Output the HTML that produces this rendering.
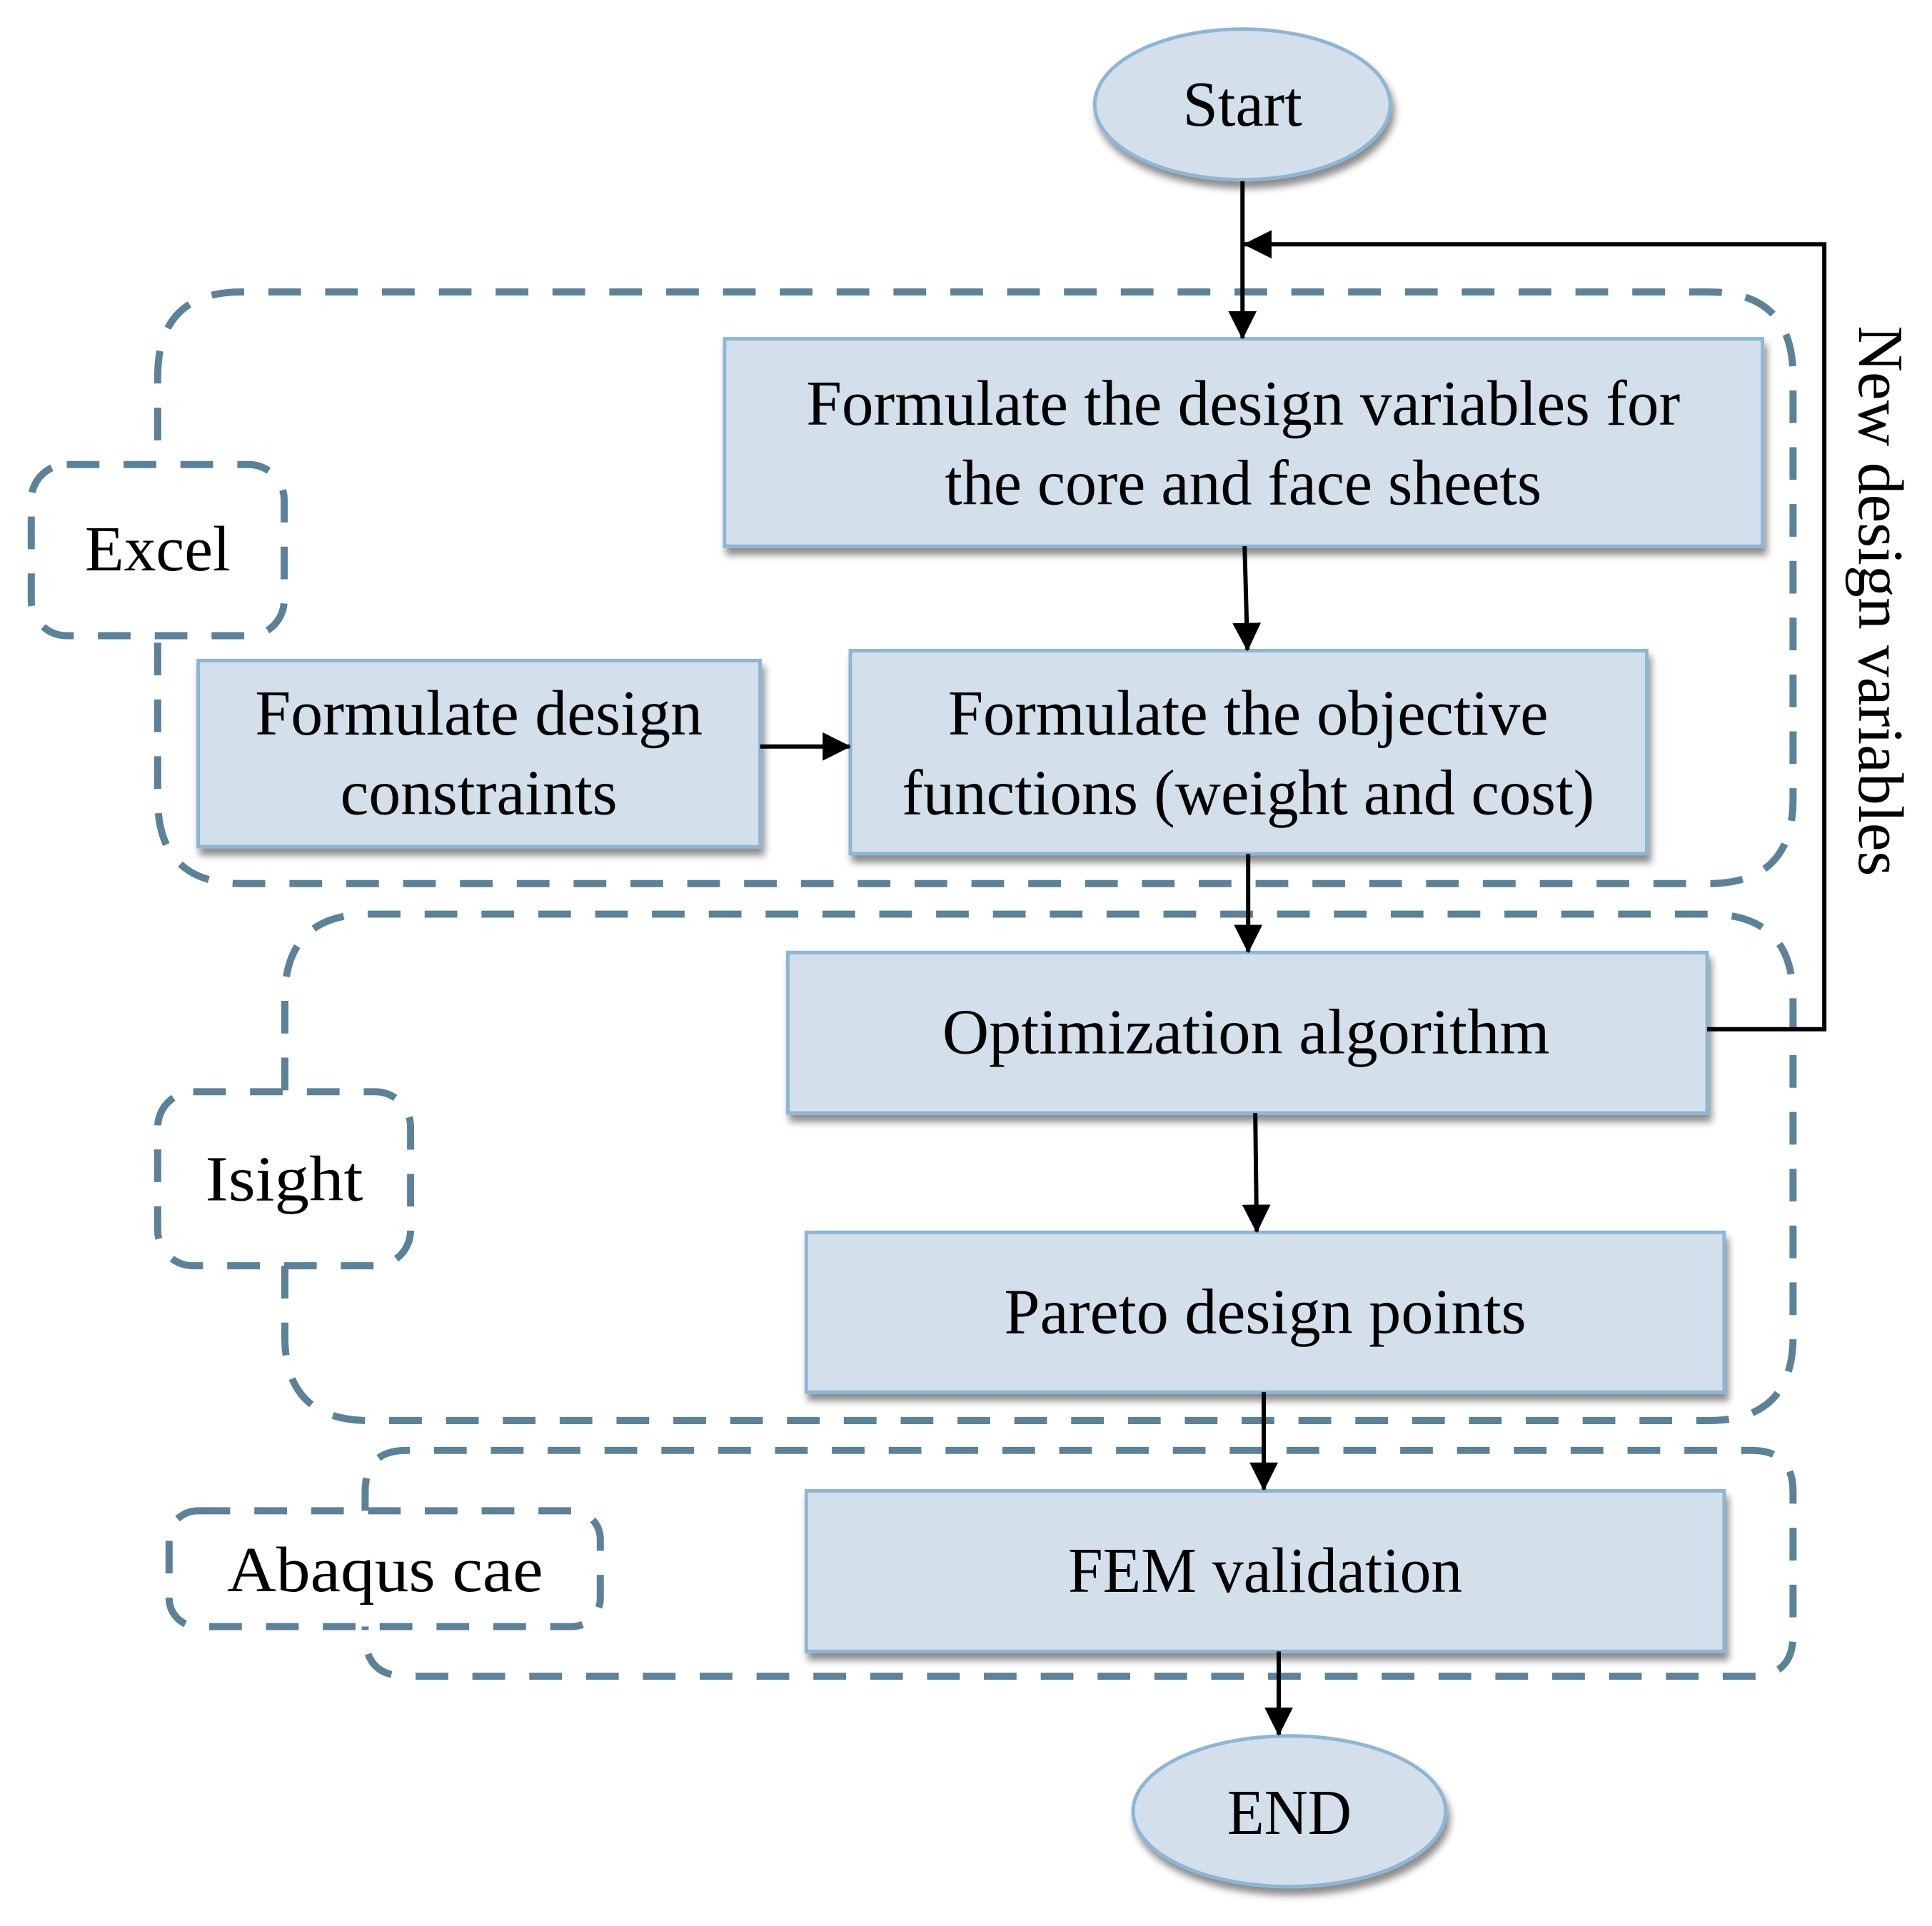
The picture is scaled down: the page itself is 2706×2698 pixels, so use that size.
<!DOCTYPE html>
<html><head><meta charset="utf-8"><style>html,body{margin:0;padding:0;background:#fff}</style></head>
<body>
<svg width="2706" height="2693" viewBox="0 0 2706 2693" xmlns="http://www.w3.org/2000/svg" font-family="Liberation Serif, serif">
<defs>
<filter id="sh" x="-5%" y="-5%" width="115%" height="125%"><feDropShadow dx="4" dy="10" stdDeviation="5" flood-color="#000" flood-opacity="0.45"/></filter>
<marker id="ar" markerWidth="40" markerHeight="40" refX="38" refY="20" orient="auto" markerUnits="userSpaceOnUse" viewBox="0 0 40 40"><path d="M0,0 L40,20 L0,40 z" fill="#000"/></marker>
</defs>
<g transform="scale(0.995)">
<g fill="none" stroke="#5b8299" stroke-width="10" stroke-dasharray="46 34">
<path d="M222,620 V530 Q222,411 340,411 H2405 Q2524,411 2524,530 V1125 Q2524,1244 2405,1244 H340 Q222,1244 222,1125 V895"/>
<rect x="44" y="654" width="356" height="241" rx="50"/>
<path d="M401,1535 V1405 Q401,1287 520,1287 H2405 Q2524,1287 2524,1405 V1882 Q2524,2000 2405,2000 H520 Q401,2000 401,1882 V1782"/>
<rect x="222" y="1537" width="356" height="245" rx="50"/>
<path d="M514,2127 V2100 Q514,2042 572,2042 H2466 Q2524,2042 2524,2100 V2302 Q2524,2360 2466,2360 H572 Q514,2360 514,2302 V2290"/>
<rect x="238" y="2127" width="607" height="163" rx="40"/>
</g>
<g fill="#d3dfea" stroke="#8db6d6" stroke-width="5" filter="url(#sh)">
<ellipse cx="1749" cy="147" rx="208" ry="106"/>
<rect x="1020" y="477" width="1461" height="292"/>
<rect x="279" y="930" width="791" height="262"/>
<rect x="1197" y="916" width="1121" height="286"/>
<rect x="1109" y="1341" width="1294" height="226"/>
<rect x="1135" y="1735" width="1292" height="225"/>
<rect x="1135" y="2099" width="1292" height="226"/>
<ellipse cx="1815" cy="2550" rx="220" ry="106"/>
</g>
<g stroke="#000" stroke-width="6" fill="none">
<line x1="1749" y1="255" x2="1749" y2="476" marker-end="url(#ar)"/>
<line x1="1752" y1="769" x2="1756" y2="915" marker-end="url(#ar)"/>
<line x1="1070" y1="1051" x2="1196" y2="1051" marker-end="url(#ar)"/>
<line x1="1757" y1="1202" x2="1757" y2="1340" marker-end="url(#ar)"/>
<line x1="1767" y1="1567" x2="1769" y2="1734" marker-end="url(#ar)"/>
<line x1="1779" y1="1960" x2="1779" y2="2097" marker-end="url(#ar)"/>
<line x1="1800" y1="2325" x2="1800" y2="2442" marker-end="url(#ar)"/>
<polyline points="2403,1449 2568,1449 2568,344 1752,344" marker-end="url(#ar)"/>
</g>
<g fill="#000" font-size="90" text-anchor="middle">
<text x="1749" y="177" textLength="168" lengthAdjust="spacingAndGlyphs">Start</text>
<text x="1750" y="598" textLength="1230" lengthAdjust="spacingAndGlyphs">Formulate the design variables for</text>
<text x="1750" y="710" textLength="840" lengthAdjust="spacingAndGlyphs">the core and face sheets</text>
<text x="674" y="1034" textLength="630" lengthAdjust="spacingAndGlyphs">Formulate design</text>
<text x="674" y="1146" textLength="390" lengthAdjust="spacingAndGlyphs">constraints</text>
<text x="1757" y="1034" textLength="845" lengthAdjust="spacingAndGlyphs">Formulate the objective</text>
<text x="1757" y="1146" textLength="975" lengthAdjust="spacingAndGlyphs">functions (weight and cost)</text>
<text x="1754" y="1483" textLength="855" lengthAdjust="spacingAndGlyphs">Optimization algorithm</text>
<text x="1781" y="1877" textLength="735" lengthAdjust="spacingAndGlyphs">Pareto design points</text>
<text x="1781" y="2241" textLength="555" lengthAdjust="spacingAndGlyphs">FEM validation</text>
<text x="1815" y="2582" textLength="175" lengthAdjust="spacingAndGlyphs">END</text>
<text x="222" y="803" textLength="205" lengthAdjust="spacingAndGlyphs">Excel</text>
<text x="400" y="1690" textLength="222" lengthAdjust="spacingAndGlyphs">Isight</text>
<text x="542" y="2240" textLength="445" lengthAdjust="spacingAndGlyphs">Abaqus cae</text>
<text transform="translate(2617,846) rotate(90)" textLength="775" lengthAdjust="spacingAndGlyphs">New design variables</text>
</g>
</g>
</svg>
</body></html>
